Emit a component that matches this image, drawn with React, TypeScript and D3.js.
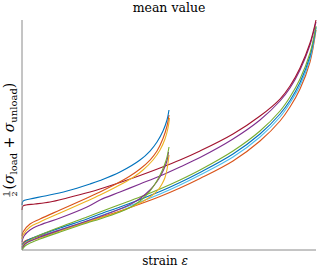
import React from "react";
import * as d3 from "d3";

// strain in % of the largest strain, mean stress in % of the largest value
const blueShort: [number, number][] = [
  [0, 19.57], [0.34, 21.3], [2.72, 22.17], [7.82, 23.48], [15.31, 25.65], [23.13, 28.7], [26.53, 30.22],
  [33.33, 33.91], [40.14, 39.13], [43.54, 43.04], [45.92, 46.96], [47.96, 51.74], [49.32, 56.52], [50.0, 60.87],
];
const orangeShort: [number, number][] = [
  [0, 6.09], [0.34, 7.83], [2.72, 11.3], [6.12, 13.48], [12.93, 17.39], [22.11, 22.61], [26.53, 25.22],
  [31.63, 28.48], [36.73, 32.17], [40.14, 35.22], [43.54, 39.13], [45.92, 43.04], [47.96, 48.48], [49.32, 53.91], [50.0, 58.7],
];
const yellowShort: [number, number][] = [
  [0, 4.78], [0.34, 6.52], [2.72, 10.0], [6.12, 12.17], [12.93, 16.09], [22.11, 21.3], [26.53, 23.91],
  [31.63, 27.17], [37.76, 31.52], [41.16, 34.78], [44.56, 39.13], [46.94, 43.48], [48.64, 48.26], [49.66, 53.04], [50.17, 57.39],
];
const greenShort: [number, number][] = [
  [0, 0], [1.02, 1.74], [2.72, 3.04], [6.12, 4.78], [12.93, 7.83], [22.11, 11.74], [26.53, 13.48], [33.33, 16.52],
  [36.73, 18.48], [40.14, 21.3], [42.86, 24.57], [44.56, 27.39], [46.26, 30.87], [47.62, 34.35], [48.64, 37.61],
  [49.32, 40.43], [50.0, 44.78],
];
const purpleShort: [number, number][] = [
  [0, 0.87], [1.02, 2.61], [2.72, 3.91], [6.12, 5.65], [12.93, 8.7], [22.11, 12.61], [26.53, 14.57], [33.33, 17.83],
  [36.73, 19.78], [40.14, 22.39], [43.54, 26.09], [45.92, 29.78], [47.28, 32.61], [48.64, 36.3], [49.32, 38.91], [49.83, 42.61],
];
const yellowShort2: [number, number][] = [
  [0, 1.3], [1.02, 3.04], [2.72, 3.91], [6.12, 5.22], [12.93, 8.26], [22.11, 12.17], [26.53, 13.91], [33.33, 16.74],
  [40.14, 20.43], [43.54, 23.04], [45.24, 24.78], [46.26, 26.09], [47.62, 28.7], [48.64, 31.52], [49.32, 35.0], [50.0, 41.3],
];

const redLong: [number, number][] = [
  [0, 17.39], [0.34, 19.13], [1.36, 19.57], [4.42, 20.0], [9.52, 20.87], [15.31, 22.61], [23.13, 25.22], [26.53, 26.52],
  [33.33, 29.35], [40.14, 32.39], [46.94, 35.65], [53.74, 39.13], [60.54, 43.04], [71.77, 50.43], [80.95, 58.26],
  [87.76, 65.65], [91.16, 71.3], [94.56, 79.13], [97.96, 90.0], [100, 100],
];
const purpleLong: [number, number][] = [
  [0, 3.48], [0.68, 6.09], [2.72, 8.7], [6.12, 10.87], [12.93, 13.91], [22.11, 18.7], [26.53, 21.74], [33.33, 25.22],
  [40.14, 28.7], [46.94, 32.17], [53.74, 36.09], [60.54, 40.22], [71.77, 48.26], [80.95, 56.52], [87.76, 64.78],
  [91.16, 70.43], [94.56, 78.26], [97.96, 89.13], [100, 99.13],
];
const longX = [0, 1.02, 2.72, 6.12, 12.93, 22.11, 26.53, 33.33, 40.14, 46.94, 53.74, 60.54, 71.77, 80.95, 87.76, 91.16, 94.56, 97.96, 100];
const greenLongY = [0.43, 2.61, 4.35, 6.52, 10.0, 14.35, 16.52, 19.78, 23.04, 26.52, 30.43, 34.78, 43.04, 51.74, 60.43, 66.52, 74.35, 85.65, 97.39];
const blueLongY = [2.17, 3.48, 4.78, 6.52, 9.57, 13.48, 15.65, 18.7, 21.96, 25.43, 29.35, 33.7, 41.74, 50.43, 59.13, 65.0, 72.83, 84.35, 96.96];
const cyanLongY = [1.3, 3.04, 3.91, 5.65, 8.7, 12.61, 14.78, 17.83, 20.87, 24.35, 28.26, 32.61, 40.43, 49.13, 57.83, 63.91, 71.52, 83.04, 96.52];
const orangeLongY = [2.61, 3.91, 4.78, 6.09, 8.7, 12.17, 14.13, 16.96, 20.0, 23.26, 26.96, 31.09, 38.7, 47.39, 56.09, 62.17, 70.0, 81.74, 95.65];

const zipLong = (ys: number[]) => longX.map((x, i) => [x, ys[i]] as [number, number]);

const series = [
  { color: "#D95319", data: zipLong(orangeLongY) },
  { color: "#4DBEEE", data: zipLong(cyanLongY) },
  { color: "#0072BD", data: zipLong(blueLongY) },
  { color: "#77AC30", data: zipLong(greenLongY) },
  { color: "#7E2F8E", data: purpleLong },
  { color: "#A2142F", data: redLong },
  { color: "#EDB120", data: yellowShort2 },
  { color: "#7E2F8E", data: purpleShort },
  { color: "#77AC30", data: greenShort },
  { color: "#EDB120", data: yellowShort },
  { color: "#D95319", data: orangeShort },
  { color: "#0072BD", data: blueShort },
];

const W = 317;
const H = 268;
const margin = { left: 22, right: 1, top: 20, bottom: 18 };
const serif = "'DejaVu Serif', serif";

export default function App() {
  const x = d3.scaleLinear().domain([0, 100]).range([margin.left, W - margin.right]);
  const y = d3.scaleLinear().domain([0, 100]).range([H - margin.bottom, margin.top]);
  const line = d3
    .line<[number, number]>()
    .x(d => x(d[0]))
    .y(d => y(d[1]))
    .curve(d3.curveCatmullRom.alpha(0.5));

  const x0 = x(0);
  const y0 = y(0);

  return (
    <svg width={W} height={H} style={{ position: "absolute", left: 0, top: 0, background: "#fff" }}>
      <text x={169} y={12} textAnchor="middle" fontFamily={serif} fontSize={12.5} fill="#000">
        mean value
      </text>

      {series.map((s, i) => (
        <path key={i} d={line(s.data) || ""} fill="none" stroke={s.color} strokeWidth={1.1} />
      ))}

      <line x1={x0} x2={x0} y1={margin.top} y2={y0} stroke="#8a8a8a" strokeWidth={1} />
      <line x1={x0} x2={W - margin.right} y1={y0} y2={y0} stroke="#8a8a8a" strokeWidth={1} />

      <text x={165} y={265} textAnchor="middle" fontFamily={serif} fontSize={12} fill="#000">
        strain <tspan fontStyle="italic">ε</tspan>
      </text>

      <g transform="translate(14,138) rotate(-90)" fontFamily={serif} fill="#000">
        <text x={-56} y={-5.5} textAnchor="middle" fontSize={8}>1</text>
        <line x1={-58.7} x2={-53.3} y1={-4.2} y2={-4.2} stroke="#000" strokeWidth={0.6} />
        <text x={-56} y={2.8} textAnchor="middle" fontSize={8}>2</text>
        <text x={-51.5} y={0} fontSize={14}>
          (<tspan fontStyle="italic">σ</tspan>
          <tspan fontSize={10} dy={3}>load</tspan>
          <tspan dy={-3}> + </tspan>
          <tspan fontStyle="italic">σ</tspan>
          <tspan fontSize={10} dy={3}>unload</tspan>
          <tspan dy={-3}>)</tspan>
        </text>
      </g>
    </svg>
  );
}
